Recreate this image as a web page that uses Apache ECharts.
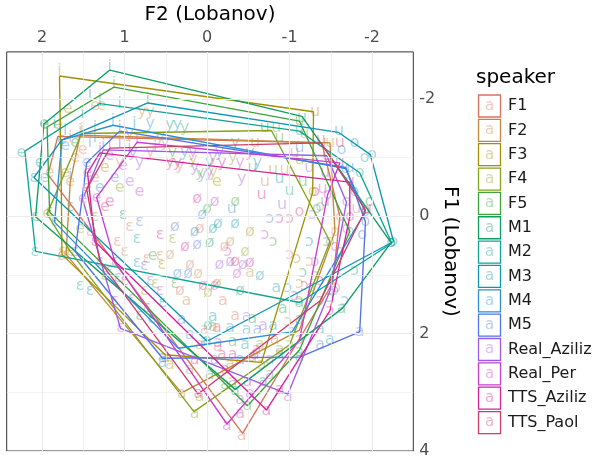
<!DOCTYPE html>
<html><head><meta charset="utf-8">
<script src="https://cdn.jsdelivr.net/npm/echarts@6/dist/echarts.min.js"></script>
<style>html,body{margin:0;padding:0;background:#fff}#c{width:595px;height:459px}</style>
</head><body><div id="c"></div><script>
const FONT = 'DejaVu Sans';
const speakers = ['F1','F2','F3','F4','F5','M1','M2','M3','M4','M5','Real_Aziliz','Real_Per','TTS_Aziliz','TTS_Paol'];
const colors = ['#D9735F','#C4883A','#A39000','#86A21A','#3DA33A','#0C9F60','#0FA595','#0E97B3','#2A8FD8','#4F75E8','#9A5BE6','#C63FD0','#D4239A','#CE3C6A'];

// tick / grid values
const xMajor = [-2,-1,0,1,2];
const xMinor = [-1.5,-0.5,0.5,1.5];
const yMajor = [-2,0,2,4];
const yMinor = [-1,1,3];

// vowel-mean polygons [F2, F1]
const poly_F1 = [[1.81,-1.36],[1.93,-0.71],[1.42,0.23],[-0.43,3.70],[-1.52,1.15],[-1.61,0.01],[-1.39,-1.25]];
const poly_F2 = [[1.54,-1.38],[1.66,-0.58],[1.71,0.65],[0.31,3.01],[-1.12,1.94],[-1.55,0.26],[-1.49,-1.25]];
const poly_F3 = [[1.79,-2.39],[1.77,-0.74],[1.76,0.65],[0.51,2.36],[-0.66,2.49],[-1.28,-0.41],[-1.29,-1.78]];
const poly_F4 = [[1.52,-1.41],[1.94,-0.04],[1.66,0.60],[0.16,3.33],[-1.00,2.19],[-1.49,0.43],[-0.78,-1.46]];
const poly_F5 = [[1.13,-2.20],[1.94,-1.52],[1.91,-0.07],[-0.49,3.23],[-1.12,2.28],[-1.73,0.26],[-1.12,-1.62]];
const poly_M1 = [[1.18,-2.49],[1.98,-1.57],[2.08,0.01],[-0.34,2.95],[-1.64,1.57],[-2.23,0.45],[-1.15,-1.70]];
const poly_M2 = [[1.30,-1.92],[2.21,-1.11],[2.08,0.60],[-1.12,1.47],[-2.24,0.46],[-1.85,-0.74],[-1.12,-1.45]];
const poly_M3 = [[0.72,-1.93],[1.76,-1.30],[2.10,-0.66],[0.00,2.13],[-2.26,0.43],[-1.98,-1.05],[-1.59,-1.43]];
const poly_M4 = [[1.14,-1.55],[1.76,-1.30],[1.85,0.10],[0.35,2.25],[-1.03,1.97],[-1.92,-0.07],[-1.68,-0.81]];
const poly_M5 = [[1.06,-1.45],[1.46,-0.91],[1.60,0.60],[0.54,2.42],[-1.12,2.40],[-1.85,1.97],[-1.92,0.10],[-1.68,-0.83]];
const poly_RealAziliz = [[1.26,-1.13],[1.51,-0.29],[1.05,1.91],[-0.98,3.03],[-1.49,1.27],[-1.69,-0.24],[-1.45,-1.03]];
const poly_RealPer = [[0.85,-1.26],[1.34,-0.32],[1.12,0.77],[-0.24,3.54],[-1.12,2.11],[-1.46,-0.36],[-1.61,-0.91]];
const poly_TTSAziliz = [[1.30,-1.08],[1.45,-0.74],[1.36,0.43],[-0.72,3.30],[-1.49,1.61],[-1.73,0.01],[-1.73,-0.58]];
const poly_TTSPaol = [[1.18,-1.16],[1.46,-0.46],[1.30,0.77],[0.11,3.03],[-1.37,1.44],[-1.92,-0.11],[-1.38,-1.25]];

// vowel tokens [vowel, F2, F1]
const tok_F1 = [['i',1.79,-1.45],['i',1.66,-1.33],['e',1.91,-0.74],['e',1.51,-1.13],['ɛ',1.42,0.26],['ɛ',1.09,0.43],['y',0.69,-1.08],['y',0.33,-0.86],['ø',0.09,0.21],['ø',0.21,0.82],['ɛ',0.73,0.73],['a',-0.19,1.44],['a',-0.13,2.23],['a',-0.42,3.75],['ɔ',-1.52,1.19],['ɔ',-1.00,0.65],['o',-1.61,0.01],['u',-1.39,-1.25],['u',-1.81,-0.12],
  ['e',1.60,-1.00],['y',0.51,-1.25],['ɛ',0.94,0.18],['ø',-0.21,0.52],['a',-0.34,1.69],['a',0.03,1.94],['u',-0.70,-0.58],['ɔ',-1.24,0.77],['ø',0.33,1.27]];
const tok_F2 = [['i',1.54,-1.45],['e',1.36,-1.88],['e',1.28,-1.88],['y',0.79,-1.78],['y',0.69,-1.78],['e',1.66,-0.58],['ɛ',1.70,0.65],['ø',1.76,0.68],['ɛ',0.57,0.68],['ø',0.45,0.65],['ø',0.11,0.98],['a',0.31,3.03],['a',0.25,1.44],['a',-0.52,0.97],['ɔ',-1.12,1.15],['ɔ',-1.57,1.22],['o',-1.55,0.26],['u',-1.49,-1.25],['u',-0.94,-0.79],
  ['y',1.06,-0.91],['e',1.36,-0.66],['ɛ',1.00,0.60],['ø',-0.28,0.43],['a',0.09,2.19],['a',-0.82,2.11],['o',-1.37,-0.16],['u',-1.06,-1.08]];
const tok_F3 = [['i',1.79,-2.47],['e',1.69,-1.83],['e',1.72,-0.74],['ɛ',1.76,0.60],['y',0.17,-0.96],['y',-0.31,-1.00],['e',-0.12,-0.58],['ɛ',0.55,0.82],['a',0.51,2.42],['a',0.45,2.53],['a',-0.55,2.40],['ɔ',-0.66,2.53],['ɔ',-1.09,0.73],['o',-1.28,-0.41],['u',-1.31,-1.78],['u',-1.12,-0.96],['ø',-0.12,1.15],
  ['y',0.94,-1.41],['e',1.24,-0.83],['ɛ',0.76,1.27],['ø',-0.52,0.26],['a',-0.28,2.53],['a',-0.88,2.28],['ɔ',-1.12,1.44],['u',-1.18,-1.41]];
const tok_F4 = [['i',1.52,-1.48],['e',1.94,-0.04],['e',1.54,0.21],['ɛ',1.66,0.60],['y',0.09,-0.74],['y',-0.07,-0.74],['ɛ',0.42,0.38],['ø',-0.01,1.30],['a',0.15,3.37],['a',0.09,3.07],['a',-0.07,1.89],['ɔ',-1.00,2.19],['ɔ',-0.98,1.80],['o',-1.49,0.43],['u',-0.84,-1.50],['u',-0.80,-0.79],['ɛ',0.63,1.15],
  ['y',0.57,-1.33],['e',1.06,-0.49],['ɛ',1.24,1.02],['ø',-0.46,0.60],['a',-0.64,2.19],['a',0.21,2.61],['ɔ',-1.31,1.02],['u',-0.58,-1.25]];
const tok_F5 = [['i',1.13,-2.25],['e',1.97,-1.55],['e',1.81,-1.55],['ɛ',1.91,-0.07],['e',0.66,0.68],['ɛ',0.39,1.15],['y',0.42,-1.08],['ø',0.00,-0.12],['a',-0.49,3.23],['a',-0.31,2.14],['a',-0.55,1.74],['ɔ',-1.12,2.31],['ɔ',-0.80,0.43],['o',-1.73,0.26],['u',-1.12,-1.62],['u',-0.55,-0.83],
  ['y',0.27,-1.50],['i',1.36,-1.50],['ɛ',1.36,0.01],['ø',-0.34,-0.24],['a',-0.76,2.70],['a',-0.22,2.87],['o',-1.61,0.60],['u',-0.88,-1.33]];
const tok_M1 = [['i',1.18,-2.54],['i',1.51,-1.75],['e',1.98,-1.57],['ɛ',2.08,0.01],['ɛ',1.02,-0.02],['y',0.45,-1.55],['ø',-0.03,0.46],['a',-0.34,2.98],['a',-0.68,2.82],['a',-1.63,1.57],['a',-0.92,1.57],['ɔ',-1.49,1.39],['ɔ',-1.16,0.97],['o',-2.23,0.45],['u',-1.15,-1.68],['u',-1.16,-0.58],['ɛ',0.82,1.69],
  ['i',1.42,-2.08],['e',1.60,-1.25],['ɛ',1.66,-0.16],['ø',-0.40,1.27],['a',-1.12,1.77],['a',-0.03,2.70],['o',-1.97,-0.24],['u',-0.70,-1.50]];
const tok_M2 = [['i',1.30,-1.96],['i',1.72,-1.45],['e',2.25,-1.08],['ɛ',2.09,0.60],['ɛ',0.85,0.38],['y',-0.03,-0.91],['ø',-0.07,0.21],['ø',-0.01,1.86],['a',-1.12,1.47],['a',-0.84,1.22],['a',-0.48,1.94],['ɔ',-2.24,0.46],['ɔ',-1.26,1.22],['o',-1.85,-0.74],['o',-1.33,-0.12],['u',-1.12,-1.45],['u',-1.00,-0.44],['ɛ',0.54,1.47],
  ['i',1.85,-1.58],['e',1.97,-0.66],['ɛ',1.54,1.19],['ø',-0.64,1.02],['a',-1.37,1.94],['a',-0.46,2.19],['ɔ',-1.79,0.93],['o',-1.91,-1.00]];
const tok_M3 = [['i',0.72,-1.98],['i',0.88,-1.58],['e',1.76,-1.30],['ɛ',2.10,-0.66],['y',0.36,-1.55],['y',-0.61,-0.91],['ø',-0.13,0.13],['ɛ',0.67,1.74],['a',0.00,2.13],['a',-0.07,1.72],['a',-1.12,2.40],['a',-0.80,1.86],['ɔ',-1.24,0.43],['o',-2.26,0.43],['o',-2.00,-1.05],['u',-1.60,-1.45],['u',-0.88,-0.63],['ø',-0.34,0.13],
  ['i',1.06,-1.92],['e',2.03,-0.91],['ɛ',1.42,1.27],['y',-0.34,-1.25],['a',-0.40,2.45],['a',-1.49,2.11],['o',-1.79,-1.25],['ø',0.15,0.26]];
const tok_M4 = [['i',1.14,-1.62],['i',1.66,-0.69],['e',1.72,-1.20],['ɛ',1.85,0.10],['y',0.69,-1.58],['y',0.06,-0.71],['ø',0.06,-0.02],['ø',0.36,0.98],['a',0.54,2.50],['a',0.03,2.14],['a',-0.28,1.91],['ɔ',-1.03,1.97],['ɔ',-0.98,1.22],['o',-1.92,-0.07],['o',-1.63,-1.13],['u',-1.68,-0.81],['u',-0.30,-0.12],['ɛ',0.85,0.80],
  ['i',1.42,-1.25],['e',1.30,-0.49],['ɛ',1.18,0.93],['y',0.27,-1.08],['a',0.21,2.02],['a',-0.88,2.36],['ɔ',-1.55,1.27],['o',-1.79,-0.41]];
const tok_M5 = [['i',1.06,-1.50],['e',1.46,-0.91],['ɛ',1.60,0.60],['ɛ',0.82,0.10],['y',0.90,-1.08],['ø',0.12,0.48],['ø',0.23,0.98],['a',0.54,2.42],['a',0.31,1.77],['a',-1.85,1.97],['a',-0.61,1.94],['ɔ',-0.76,0.05],['ɔ',-1.45,0.43],['o',-1.92,0.10],['o',-1.88,0.31],['u',-1.43,-0.24],['u',-1.73,-0.83],['ɛ',1.08,1.05],
  ['i',1.36,-1.33],['e',1.12,-0.66],['ɛ',0.76,0.85],['y',-0.15,-1.08],['ø',0.39,0.18],['a',-0.09,2.45],['a',-1.37,2.19],['ɔ',-1.67,1.44],['u',-1.12,-1.16]];
const tok_RealAziliz = [['i',1.26,-1.20],['e',1.51,-0.29],['e',1.18,-1.03],['ɛ',1.05,1.91],['ɛ',0.91,1.40],['y',0.82,-0.91],['y',-0.42,-0.63],['ø',-0.15,0.82],['ø',-0.43,0.82],['a',-0.98,3.07],['a',-0.68,1.86],['a',-0.48,1.72],['ɔ',-1.49,1.27],['ɔ',-1.28,-0.02],['o',-1.69,-0.24],['o',-1.69,0.21],['u',-1.45,-1.03],['u',-0.91,-0.19],
  ['i',1.00,-1.08],['e',0.94,-0.58],['ɛ',0.69,1.10],['y',0.15,-0.83],['ø',-0.28,0.77],['a',-0.76,2.45],['a',-0.40,3.12],['ɔ',-1.31,0.77],['u',-1.24,-0.83]];
const tok_RealPer = [['i',0.85,-1.31],['e',1.34,-0.32],['e',1.02,-0.86],['ɛ',1.12,0.77],['y',0.17,-1.08],['y',-0.03,-0.74],['ø',-0.09,-0.24],['ø',-0.36,0.98],['ɔ',-0.25,0.60],['a',-0.24,3.57],['a',-0.13,2.16],['a',-0.60,2.28],['ɔ',-1.12,2.11],['ɔ',-0.70,0.31],['o',-1.46,-0.36],['u',-1.61,-0.91],['u',-1.40,-0.46],
  ['i',0.63,-1.16],['e',0.82,-0.41],['ɛ',0.57,1.27],['y',-0.40,-0.91],['ø',-0.09,1.19],['a',-0.52,3.03],['a',-0.22,2.61],['ɔ',-1.06,1.35],['o',-1.55,0.52]];
const tok_TTSAziliz = [['i',1.30,-1.13],['e',1.45,-0.74],['ɛ',1.36,0.43],['ɛ',0.57,0.31],['y',0.36,-0.91],['y',-0.18,-0.91],['ø',0.12,-0.29],['ø',-0.52,0.80],['a',-0.72,3.31],['a',-0.49,2.82],['a',-0.31,2.36],['a',-0.18,2.36],['ɔ',-1.49,1.61],['ɔ',-0.88,0.05],['o',-1.73,0.01],['o',-1.31,-0.41],['u',-1.73,-0.58],['u',-0.66,-0.37],
  ['i',1.06,-1.25],['e',1.18,-0.24],['ɛ',1.00,1.10],['y',-0.52,-1.08],['ø',0.27,0.52],['a',-0.88,2.95],['a',-0.58,2.36],['ɔ',-1.37,1.10],['u',-1.43,-0.74]];
const tok_TTSPaol = [['i',1.18,-1.21],['e',1.46,-0.49],['ɛ',1.30,0.77],['ɛ',0.73,1.56],['y',-0.07,-1.00],['ø',0.05,1.19],['a',0.11,3.03],['a',-0.31,2.82],['a',-0.12,1.91],['ɔ',-1.37,1.44],['ɔ',-1.00,0.05],['o',-1.92,-0.11],['o',-1.12,-0.07],['u',-1.38,-1.30],['u',-1.94,-0.12],
  ['i',0.94,-1.16],['e',1.24,-0.16],['ɛ',1.12,1.44],['y',0.45,-0.91],['ø',-0.34,0.77],['a',-0.40,3.37],['a',0.15,2.45],['ɔ',-1.18,1.19],['u',-1.61,-1.25]];

const polys = [poly_F1,poly_F2,poly_F3,poly_F4,poly_F5,poly_M1,poly_M2,poly_M3,poly_M4,poly_M5,poly_RealAziliz,poly_RealPer,poly_TTSAziliz,poly_TTSPaol];
const toks = [tok_F1,tok_F2,tok_F3,tok_F4,tok_F5,tok_M1,tok_M2,tok_M3,tok_M4,tok_M5,tok_RealAziliz,tok_RealPer,tok_TTSAziliz,tok_TTSPaol];

const gridLine = (w) => ({color:'#EBEBEB', width:w, type:'solid'});
const series = [{
  type:'line', data:[], z:0, silent:true, animation:false,
  markLine:{silent:true, symbol:['none','none'], label:{show:false}, animation:false,
    emphasis:{disabled:true},
    data:[].concat(
      xMinor.map(v=>({xAxis:v, lineStyle:gridLine(0.6)})),
      yMinor.map(v=>({yAxis:v, lineStyle:gridLine(0.6)})),
      xMajor.map(v=>({xAxis:v, lineStyle:gridLine(1.1)})),
      yMajor.map(v=>({yAxis:v, lineStyle:gridLine(1.1)}))
    )}
}];
speakers.forEach((s,i)=>{
  const tk = toks[i];
  series.push({
    type:'custom', name:s, coordinateSystem:'cartesian2d', z:2, silent:true, animation:false,
    data: tk.map(t=>[t[1],t[2]]),
    renderItem:(params, api)=>{
      const p = api.coord([api.value(0), api.value(1)]);
      return {type:'text', x:p[0], y:p[1], style:{text: tk[params.dataIndex][0], fill: colors[i], opacity:0.38,
        font:'16px "'+FONT+'"', align:'center', verticalAlign:'middle'}};
    }
  });
});
speakers.forEach((s,i)=>{
  const pl = polys[i];
  series.push({
    type:'line', name:s, data: pl.concat([pl[0]]), symbol:'none', showSymbol:false, z:3, silent:true, animation:false,
    lineStyle:{color:colors[i], width:1.35}
  });
});

// legend drawn as graphics
const graphics = [{type:'text', left:476, top:68, style:{text:'speaker', font:'20px "'+FONT+'"', fill:'#000'}}];
speakers.forEach((s,i)=>{
  const y0 = 95 + i*24.35;
  graphics.push({type:'rect', shape:{x:478.5, y:y0, width:22, height:22}, style:{fill:'#fff', stroke:colors[i], lineWidth:1.3}});
  graphics.push({type:'text', x:489.5, y:y0+11, style:{text:'a', fill:colors[i], opacity:0.38, font:'15px "'+FONT+'"', align:'center', verticalAlign:'middle'}});
  graphics.push({type:'text', x:508, y:y0+11, style:{text:s, fill:'#1A1A1A', font:'16px "'+FONT+'"', align:'left', verticalAlign:'middle'}});
});

const chart = echarts.init(document.getElementById('c'), null, {renderer:'canvas'});
chart.setOption({
  animation:false,
  grid:{left:6.7, right:181.7, top:47.3, bottom:5, show:true, borderColor:'#333333', borderWidth:1, backgroundColor:'#fff'},
  xAxis:{type:'value', position:'top', inverse:true, min:-2.5, max:2.43,
    axisLine:{show:false}, splitLine:{show:false},
    axisTick:{show:true, customValues:xMajor, length:4, lineStyle:{color:'#333333'}},
    axisLabel:{customValues:xMajor, color:'#4D4D4D', fontSize:16, fontFamily:FONT, margin:6},
    name:'F2 (Lobanov)', nameLocation:'middle', nameGap:25,
    nameTextStyle:{fontSize:20, color:'#000', fontFamily:FONT}},
  yAxis:{type:'value', position:'right', inverse:true, min:-2.8, max:4.0,
    axisLine:{show:false}, splitLine:{show:false},
    axisTick:{show:true, customValues:yMajor, length:4, lineStyle:{color:'#333333'}},
    axisLabel:{customValues:yMajor, color:'#4D4D4D', fontSize:16, fontFamily:FONT, margin:6},
    name:'F1 (Lobanov)', nameLocation:'middle', nameGap:27, nameRotate:-90, nameMoveOverlap:false,
    nameTextStyle:{fontSize:20, color:'#000', fontFamily:FONT}},
  series: series,
  graphic: graphics
});
</script></body></html>
